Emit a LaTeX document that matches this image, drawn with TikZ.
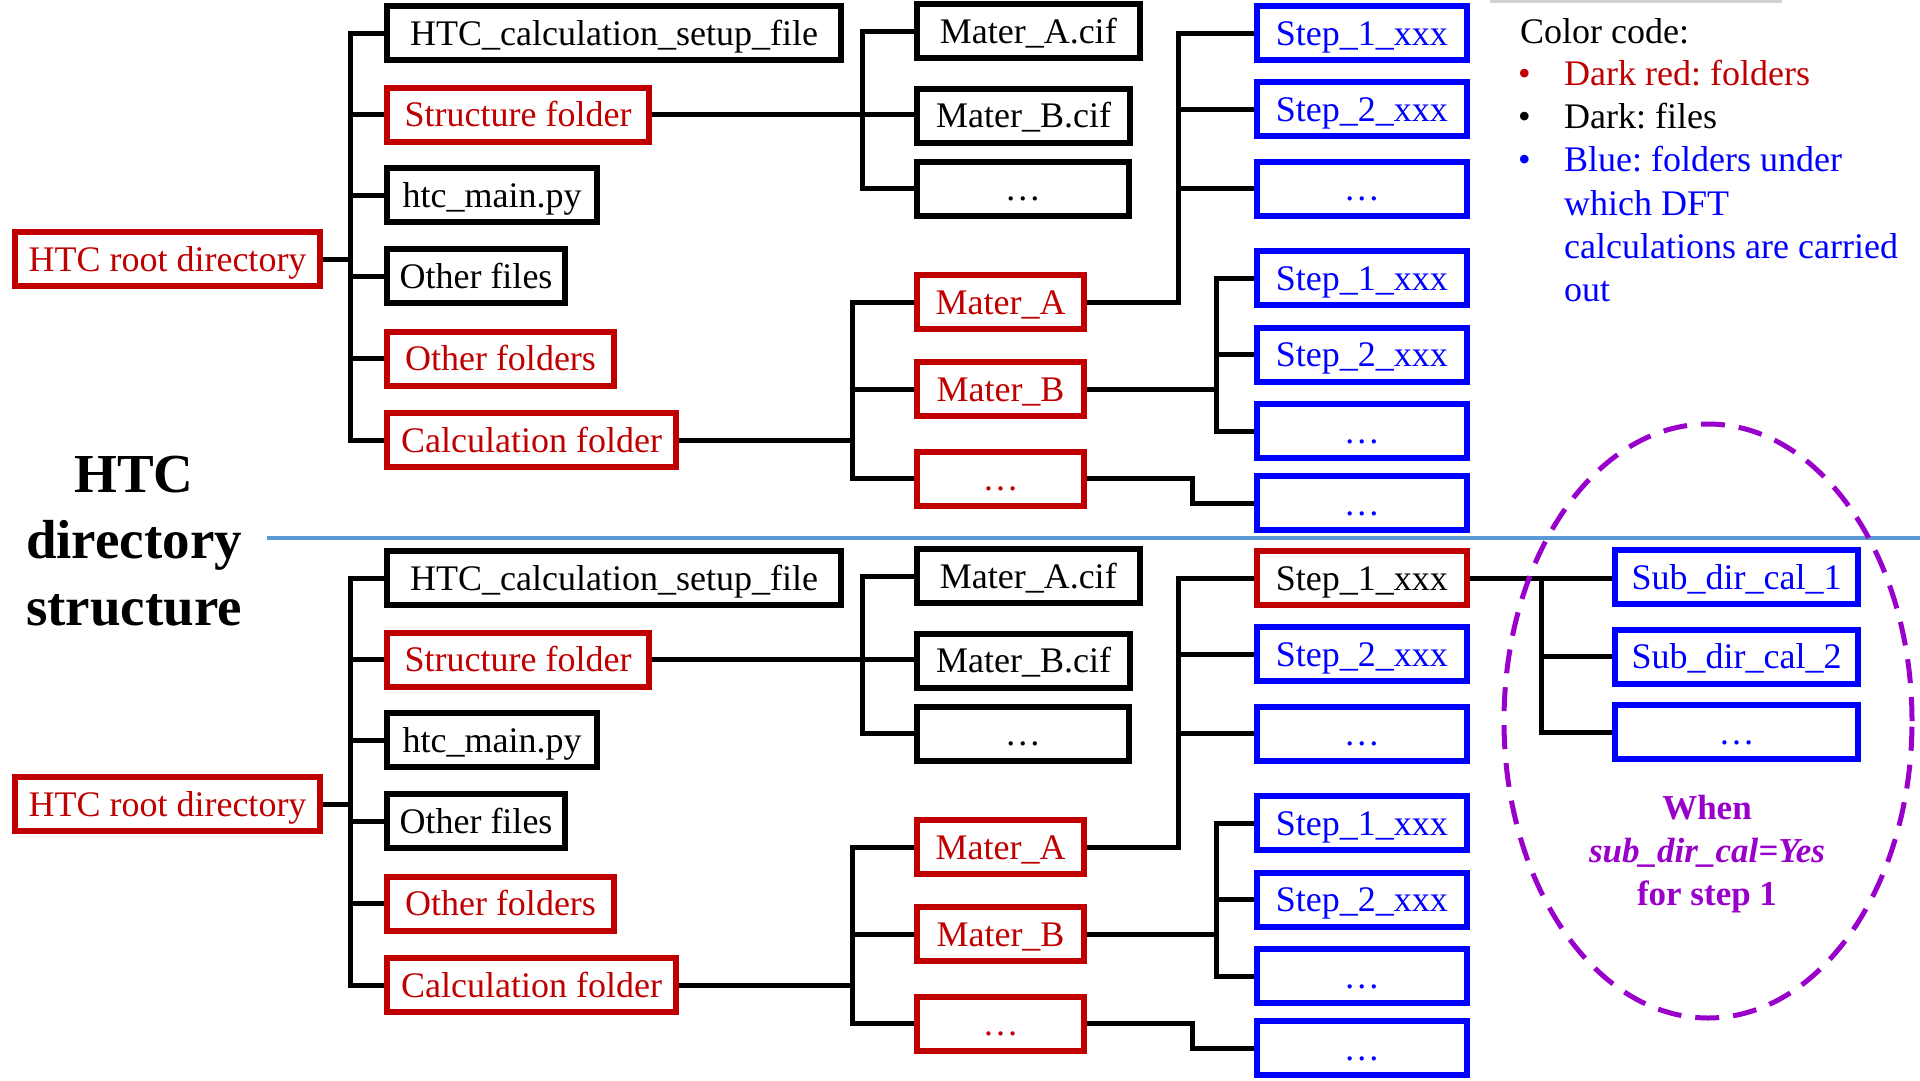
\documentclass[tikz,border=0pt]{standalone}
\usepackage{fontspec}
\setmainfont{Liberation Serif}
\frenchspacing
\definecolor{dred}{HTML}{C00000}
\definecolor{dblue}{HTML}{0000FF}
\definecolor{purp}{HTML}{9900CC}
\definecolor{sepblue}{HTML}{5B9BD5}
\tikzset{
  basebox/.style={draw, line width=6pt, minimum height=54pt, inner sep=0pt, anchor=west,
    text height=26pt, text depth=2pt, font=\fontsize{36}{43}\selectfont},
  filebox/.style={basebox, draw=black, text=black},
  folderbox/.style={basebox, draw=dred, text=dred},
  dftbox/.style={basebox, draw=dblue, text=dblue},
  redstepbox/.style={basebox, draw=dred, text=black},
  conn/.style={line width=5pt, draw=black, line join=miter},
  legend/.style={anchor=base west, inner sep=0pt, font=\fontsize{36}{43}\selectfont},
  titletext/.style={anchor=base, inner sep=0pt, font=\fontsize{55}{66}\selectfont\bfseries},
  purptext/.style={anchor=base, inner sep=0pt, text=purp, font=\fontsize{35}{42}\selectfont\bfseries},
}
\newcommand\htcgroup[3]{%
\begin{scope}[yshift=#2pt]
  \node[folderbox, minimum width=305pt] (root#1) at (12,259) {HTC root directory};
  \node[filebox, minimum width=454pt] (setup#1) at (384,33) {HTC\_calculation\_setup\_file};
  \node[folderbox, minimum width=262pt] (struct#1) at (384,114.5) {Structure folder};
  \node[filebox, minimum width=210pt] (main#1) at (384,195) {htc\_main.py};
  \node[filebox, minimum width=178pt] (ofiles#1) at (384,276) {Other files};
  \node[folderbox, minimum width=227pt] (ofold#1) at (384,358.5) {Other folders};
  \node[folderbox, minimum width=289pt] (calc#1) at (384,440) {Calculation folder};
  \node[filebox, minimum width=222.5pt] (cifA#1) at (914,31) {Mater\_A.cif};
  \node[filebox, minimum width=213pt] (cifB#1) at (914,115.5) {Mater\_B.cif};
  \node[filebox, minimum width=211.5pt] (cifD#1) at (914,188.5) {\ldots};
  \node[folderbox, minimum width=167pt] (matA#1) at (914,302) {Mater\_A};
  \node[folderbox, minimum width=167pt] (matB#1) at (914,389) {Mater\_B};
  \node[folderbox, minimum width=167pt] (matD#1) at (914,478.5) {\ldots};
  \node[#3, minimum width=209.5pt] (sa#1) at (1254,33) {Step\_1\_xxx};
  \node[dftbox, minimum width=209.5pt] (sb#1) at (1254,109) {Step\_2\_xxx};
  \node[dftbox, minimum width=209.5pt] (sc#1) at (1254,188.5) {\ldots};
  \node[dftbox, minimum width=209.5pt] (sd#1) at (1254,278) {Step\_1\_xxx};
  \node[dftbox, minimum width=209.5pt] (se#1) at (1254,354.5) {Step\_2\_xxx};
  \node[dftbox, minimum width=209.5pt] (sf#1) at (1254,431) {\ldots};
  \node[dftbox, minimum width=209.5pt] (sg#1) at (1254,503) {\ldots};
  \coordinate (xt#1) at (350,0);
  \coordinate (xc#1) at (862.5,0);
  \coordinate (xk#1) at (852,0);
  \coordinate (xa#1) at (1178.6,0);
  \coordinate (xb#1) at (1216,0);
  \coordinate (xd#1) at (1192.7,0);
  % root trunk
  \draw[conn] (root#1.east) -- (root#1.east -| xt#1);
  \draw[conn] (setup#1.west) -- (setup#1.west -| xt#1) -- (calc#1.west -| xt#1) -- (calc#1.west);
  \draw[conn] (struct#1.west -| xt#1) -- (struct#1.west);
  \draw[conn] (main#1.west -| xt#1) -- (main#1.west);
  \draw[conn] (ofiles#1.west -| xt#1) -- (ofiles#1.west);
  \draw[conn] (ofold#1.west -| xt#1) -- (ofold#1.west);
  % structure folder
  \draw[conn] (struct#1.east) -- (struct#1.east -| cifB#1.west);
  \draw[conn] (cifA#1.west) -- (cifA#1.west -| xc#1) -- (cifD#1.west -| xc#1) -- (cifD#1.west);
  % calculation folder
  \draw[conn] (calc#1.east) -- (calc#1.east -| xk#1);
  \draw[conn] (matA#1.west) -- (matA#1.west -| xk#1) -- (matD#1.west -| xk#1) -- (matD#1.west);
  \draw[conn] (matB#1.west -| xk#1) -- (matB#1.west);
  % Mater_A
  \draw[conn] (matA#1.east) -- (matA#1.east -| xa#1) -- (sa#1.west -| xa#1) -- (sa#1.west);
  \draw[conn] (sb#1.west -| xa#1) -- (sb#1.west);
  \draw[conn] (sc#1.west -| xa#1) -- (sc#1.west);
  % Mater_B
  \draw[conn] (sd#1.west) -- (sd#1.west -| xb#1) -- (sf#1.west -| xb#1) -- (sf#1.west);
  \draw[conn] (matB#1.east) -- (matB#1.east -| xb#1);
  \draw[conn] (se#1.west -| xb#1) -- (se#1.west);
  % dots
  \draw[conn] (matD#1.east) -- (matD#1.east -| xd#1) -- (sg#1.west -| xd#1) -- (sg#1.west);
\end{scope}}
\begin{document}
\begin{tikzpicture}[x=1pt, y=-1pt]
\useasboundingbox (0,0) rectangle (1920,1080);
\fill[white] (0,0) rectangle (1920,1080);
\fill[gray!35] (1490,0) rectangle (1782,2.5);

\htcgroup{a}{0}{dftbox}
\htcgroup{b}{-545}{redstepbox}

% separator
\draw[sepblue, line width=4pt] (267,538) -- (1920,538);

% title
\node[titletext] (tt1) at (134,492) {HTC};
\node[titletext] (tt2) at (134,558) {directory};
\node[titletext] (tt3) at (134,625) {structure};

% sub directories (lower group)
\node[dftbox, minimum width=243pt] (sub1) at (1612,577) {Sub\_dir\_cal\_1};
\node[dftbox, minimum width=243pt] (sub2) at (1612,656.5) {Sub\_dir\_cal\_2};
\node[dftbox, minimum width=243pt] (sub3) at (1612,732) {\ldots};
\coordinate (xs) at (1541,0);
\draw[conn] (sab.east) -- (sab.east -| sub1.west);
\draw[conn] (xs |- sab.east) -- (xs |- sub3.west) -- (sub3.west);
\draw[conn] (xs |- sub2.west) -- (sub2.west);

% ellipse
\draw[purp, line width=5pt, dash pattern=on 24pt off 14pt] (1708,721) ellipse [x radius=204pt, y radius=297pt];
\node[purptext] (w1) at (1707,819) {When};
\node[purptext, font=\fontsize{35}{42}\selectfont\bfseries\itshape] (w2) at (1707,862) {sub\_dir\_cal=Yes};
\node[purptext] (w3) at (1707,905) {for step 1};

% legend
\node[legend] (cc) at (1520,43) {Color code:};
\node[legend, text=dred] (bu1) at (1518,85) {•};
\node[legend, text=dred] (lg1) at (1564,85) {Dark red: folders};
\node[legend] (bu2) at (1518,128) {•};
\node[legend] (lg2) at (1564,128) {Dark: files};
\node[legend, text=dblue] (bu3) at (1518,171) {•};
\node[legend, text=dblue] (lg3) at (1564,171) {Blue: folders under};
\node[legend, text=dblue] (lg4) at (1564,215) {which DFT};
\node[legend, text=dblue] (lg5) at (1564,258) {calculations are carried};
\node[legend, text=dblue] (lg6) at (1564,301) {out};
\end{tikzpicture}
\end{document}
